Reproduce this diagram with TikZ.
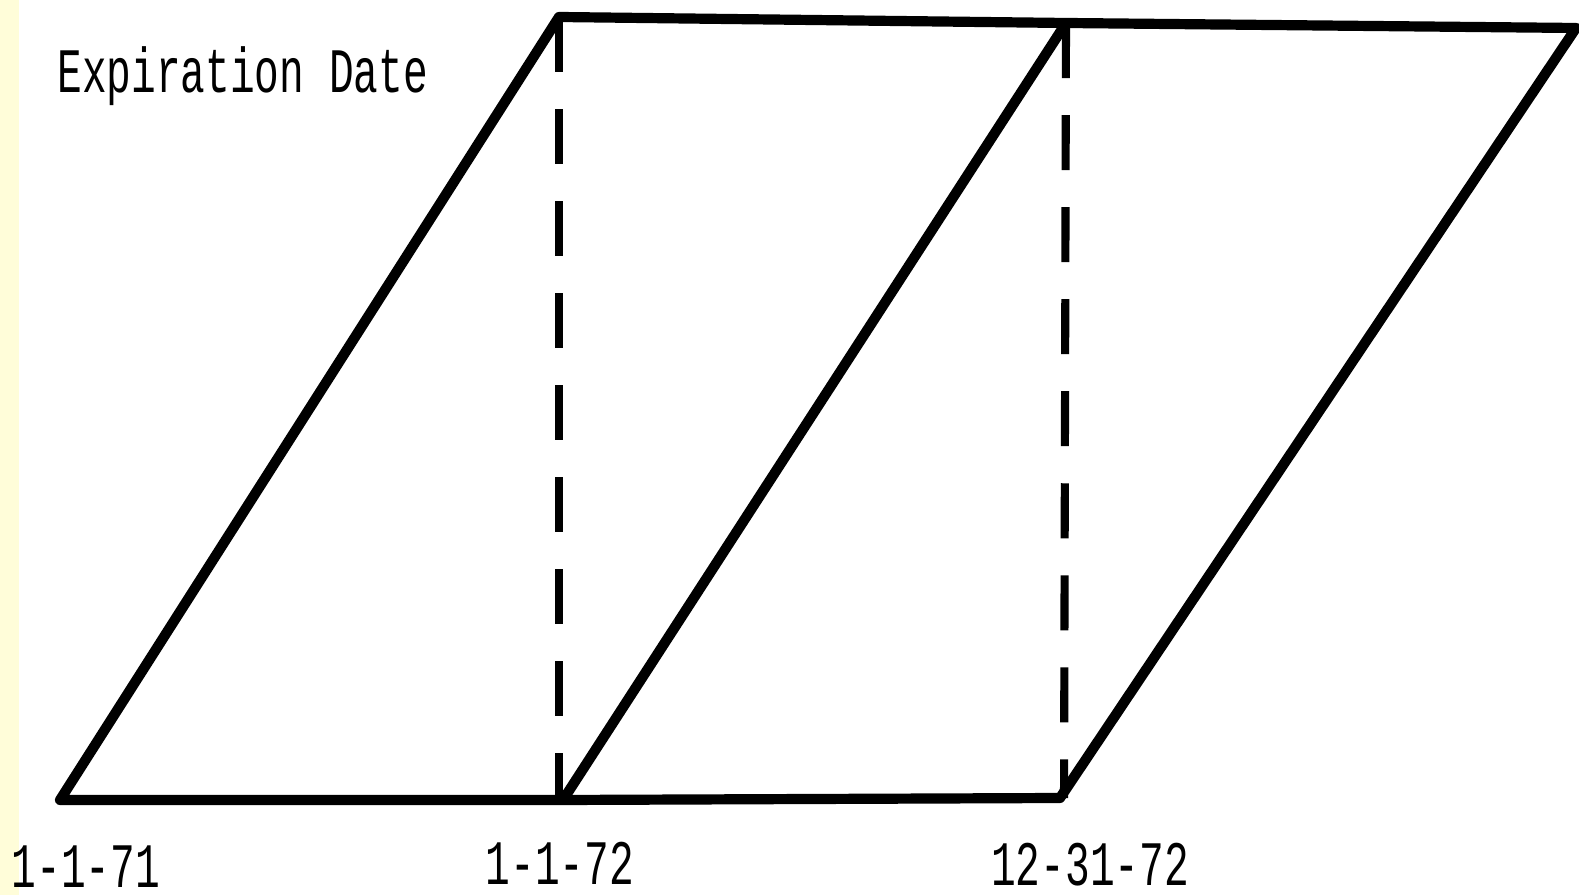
\documentclass[tikz,border=0pt]{standalone}
\usepackage{fontspec}
\setmainfont{Liberation Mono}
\usepackage{tikz}

\begin{document}
\begin{tikzpicture}[x=0.01cm, y=-0.01cm,
    edge/.style={line width=2.9pt, line join=round},
    guide/.style={line width=2.3pt, dash pattern=on 0.55cm off 0.37cm},
    datelabel/.style={inner sep=0pt, xscale=0.65, font=\fontsize{18}{20}\selectfont}]
            \useasboundingbox (0,0) rectangle (1579,895);
            \fill[white] (0,0) rectangle (1579,895);
            \fill[yellow!15] (0,0) rectangle (19,895);
            \coordinate (a) at (60,800);
            \coordinate (b) at (559,17);
            \coordinate (c) at (1066,23);
            \coordinate (d) at (1576,28);
            \coordinate (e) at (563,800);
            \coordinate (f) at (1060,798);
            \coordinate (bb) at (559,800);
            \coordinate (cb) at (1064,798);
            \draw[guide] (b) -- (bb);
            \draw[guide] (c) -- (cb);
            \draw[edge] (a) -- (b) -- (c) -- (d) -- (f) -- (e) -- cycle;
            \draw[edge] (e) -- (c);
            \node[datelabel, anchor=base west] (title) at (57,93) {Expiration Date};
            \node[datelabel, anchor=base] (d71) at (86,888) {1-1-71};
            \node[datelabel, anchor=base] (d72) at (560,884) {1-1-72};
            \node[datelabel, anchor=base] (d7212) at (1090,886) {12-31-72};
        \end{tikzpicture}
\end{document}
